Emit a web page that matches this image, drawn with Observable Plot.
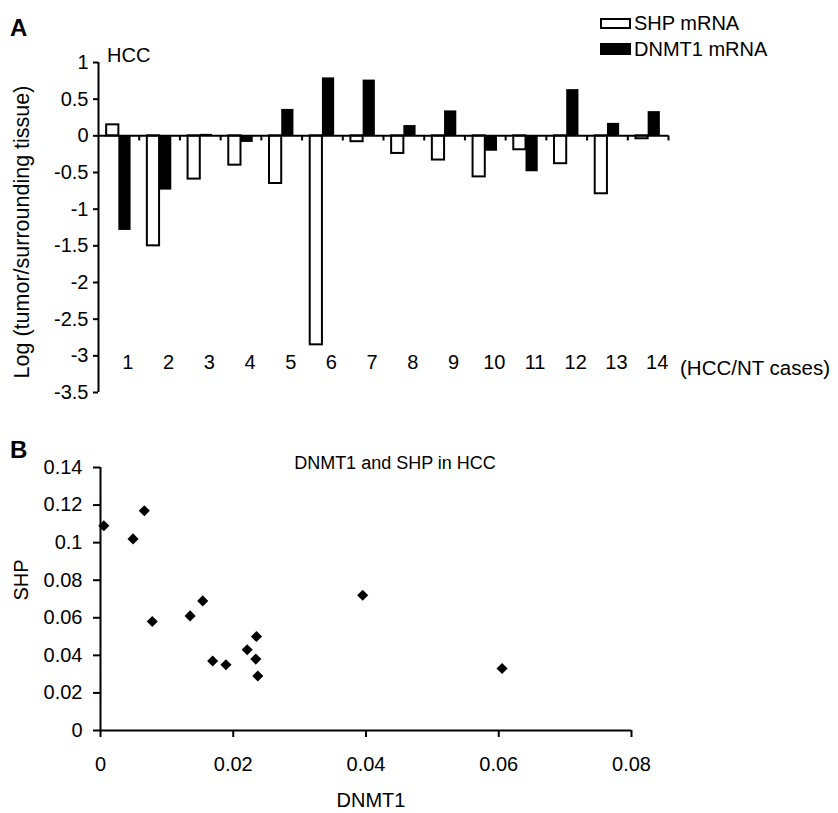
<!DOCTYPE html>
<html><head><meta charset="utf-8">
<script src="https://cdn.jsdelivr.net/npm/d3@7"></script>
<script src="https://cdn.jsdelivr.net/npm/@observablehq/plot@0.6"></script>
<style>
body{margin:0;background:#fff;font-family:"Liberation Sans",Arial,sans-serif;color:#000;}
#wrap{position:relative;width:838px;height:813px;overflow:hidden;}
#wrap svg{position:absolute;left:0;}
.lbl{position:absolute;font-size:20px;line-height:1;white-space:nowrap;color:#000;}
.bold{font-weight:bold;font-size:24px;}
.rot{transform:translate(-50%,-50%) rotate(-90deg);}
.ctr{transform:translate(-50%,-50%);}
.sw{position:absolute;box-sizing:border-box;width:31px;height:11px;border:2px solid #000;}
</style></head><body>
<div id="wrap">
  <div class="lbl bold" style="left:10px;top:16px;">A</div>
  <div class="lbl bold" style="left:10px;top:438px;">B</div>
  <div class="sw" style="left:600px;top:18px;background:#fff;"></div>
  <div class="lbl" style="left:634px;top:13px;">SHP mRNA</div>
  <div class="sw" style="left:600px;top:43px;height:12px;background:#000;"></div>
  <div class="lbl" style="left:634px;top:39px;">DNMT1 mRNA</div>
  <div class="lbl" style="left:107px;top:45px;">HCC</div>
  <div class="lbl" style="left:680px;top:358px;font-size:20.5px;">(HCC/NT cases)</div>
  <div class="lbl rot" style="left:23px;top:232px;font-size:21.5px;">Log (tumor/surrounding tissue)</div>
  <div class="lbl ctr" style="left:395px;top:463px;font-size:18px;">DNMT1 and SHP in HCC</div>
  <div class="lbl ctr" style="left:371px;top:800px;">DNMT1</div>
  <div class="lbl rot" style="left:21px;top:580px;">SHP</div>
</div>
<script>
// Panel A: log(tumor/surrounding tissue) per HCC/NT case
const cases = [1, 2, 3, 4, 5, 6, 7, 8, 9, 10, 11, 12, 13, 14];
const shpLog = [0.15, -1.50, -0.59, -0.40, -0.65, -2.85, -0.08, -0.24, -0.33, -0.56, -0.19, -0.38, -0.79, -0.04];
const dnmt1Log = [-1.29, -0.74, 0.02, -0.09, 0.36, 0.79, 0.76, 0.14, 0.34, -0.21, -0.49, 0.63, 0.17, 0.33];
const yTicksA = [1, 0.5, 0, -0.5, -1, -1.5, -2, -2.5, -3, -3.5];

// Panel B: DNMT1 vs SHP scatter
const scatterDNMT1 = [0.0005, 0.0049, 0.0066, 0.0078, 0.0135, 0.0154, 0.0169, 0.0189, 0.0221, 0.0235, 0.0234, 0.0237, 0.0395, 0.0605];
const scatterSHP = [0.109, 0.102, 0.117, 0.058, 0.061, 0.069, 0.037, 0.035, 0.043, 0.050, 0.038, 0.029, 0.072, 0.033];
const xTicksB = [0, 0.02, 0.04, 0.06, 0.08];
const yTicksB = [0, 0.02, 0.04, 0.06, 0.08, 0.1, 0.12, 0.14];

const barsA = cases.map((c, i) => ({case: c, shp: shpLog[i], dnmt1: dnmt1Log[i]}));
const boundaries = cases.map(c => c + 0.5);
const pts = scatterDNMT1.map((x, i) => ({dnmt1: x, shp: scatterSHP[i]}));

const baseStyle = {fontFamily: '"Liberation Sans", Arial, sans-serif', fontSize: "20px", color: "black", background: "transparent", overflow: "visible"};

const plotA = Plot.plot({
  width: 838, height: 400,
  marginTop: 62, marginBottom: 8, marginLeft: 98, marginRight: 170,
  style: baseStyle,
  x: {domain: [0.5, 14.5], axis: null},
  y: {domain: [-3.5, 1], axis: null},
  marks: [
    Plot.rect(barsA, {x1: d => d.case - 0.3, x2: d => d.case, y1: 0, y2: "shp", fill: "white", stroke: "black", strokeWidth: 2}),
    Plot.rect(barsA, {x1: d => d.case, x2: d => d.case + 0.3, y1: 0, y2: "dnmt1", fill: "black"}),
    Plot.ruleY([0], {stroke: "black", strokeWidth: 2}),
    Plot.ruleX(boundaries, {y1: 0, y2: -0.07, stroke: "black", strokeWidth: 2}),
    Plot.ruleX([0.5], {stroke: "black", strokeWidth: 2}),
    Plot.axisY({ticks: yTicksA, tickSize: 5, tickPadding: 5, strokeWidth: 2, tickFormat: d => String(d), fontSize: 20, label: null}),
    Plot.text(cases, {x: d => d, frameAnchor: "bottom", dy: -24, dx: 9, text: d => String(d), fontSize: 20})
  ]
});

const plotB = Plot.plot({
  width: 838, height: 413,
  marginTop: 67, marginBottom: 83, marginLeft: 100, marginRight: 207,
  style: baseStyle,
  x: {domain: [0, 0.08], axis: null},
  y: {domain: [0, 0.14], axis: null},
  marks: [
    Plot.ruleX([0], {stroke: "black", strokeWidth: 2}),
    Plot.ruleY([0], {stroke: "black", strokeWidth: 2}),
    Plot.axisY({ticks: yTicksB, tickSize: 7, tickPadding: 11, strokeWidth: 2, tickFormat: d => String(d), fontSize: 20, label: null}),
    Plot.axisX({ticks: xTicksB, tickSize: 7, tickPadding: 19, strokeWidth: 2, tickFormat: d => String(d), fontSize: 20, label: null}),
    Plot.dot(pts, {x: "dnmt1", y: "shp", symbol: "diamond2", r: 5, fill: "black", stroke: "none"})
  ]
});

const wrap = document.getElementById("wrap");
plotA.style.top = "0px";
plotB.style.top = "400px";
wrap.insertBefore(plotB, wrap.firstChild);
wrap.insertBefore(plotA, wrap.firstChild);
</script>
</body></html>
